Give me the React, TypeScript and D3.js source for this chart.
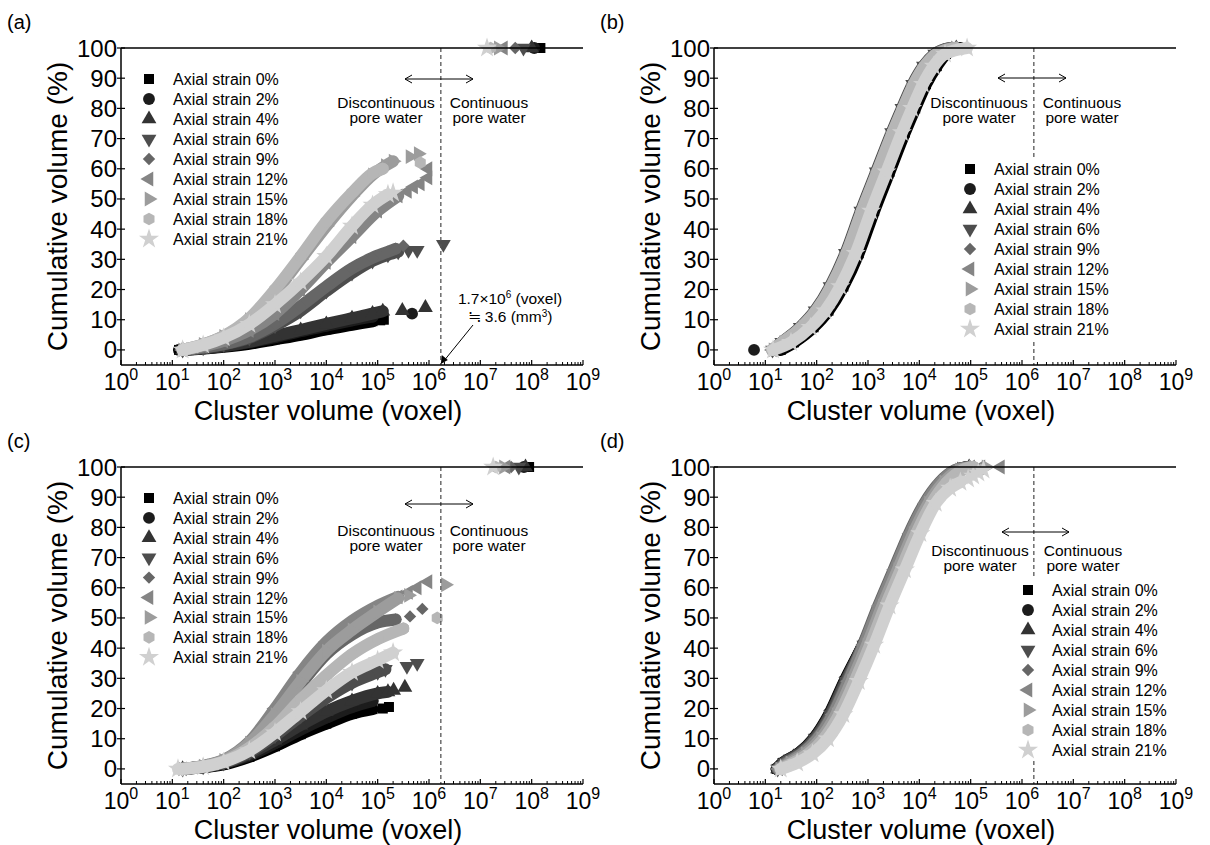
import React from "react";
import * as d3 from "d3";

const FONT = "'Liberation Sans', Arial, Helvetica, sans-serif";

const strainLabels = [
  "Axial strain 0%", "Axial strain 2%", "Axial strain 4%", "Axial strain 6%", "Axial strain 9%",
  "Axial strain 12%", "Axial strain 15%", "Axial strain 18%", "Axial strain 21%",
];
const seriesGreys = ["#000000", "#1c1c1c", "#333333", "#4d4d4d", "#666666", "#858585", "#9c9c9c", "#b6b6b6", "#d0d0d0"];
const seriesMarkers = ["square", "circle", "triangleUp", "triangleDown", "diamond", "triangleLeft", "triangleRight", "hexagon", "star"];
const yTickValues = [0, 10, 20, 30, 40, 50, 60, 70, 80, 90, 100];
const xTickExponents = [0, 1, 2, 3, 4, 5, 6, 7, 8, 9];
const thresholdVoxel = 1.7e6;

// points are [log10(cluster volume in voxel), cumulative volume %]
// dense runs of points (overlapping markers)
const bandA = [
  [[1.13, 0], [1.5, 0.3], [2, 1], [2.5, 2], [3, 3.5], [3.5, 5], [4, 6.8], [4.5, 8.3], [4.9, 9.5]],
  [[1.2, 0], [1.6, 0.5], [2, 1.2], [2.5, 2.5], [3, 4.2], [3.5, 6.2], [4, 8], [4.5, 9.8], [4.9, 11]],
  [[1.2, 0], [1.6, 0.5], [2, 1.3], [2.5, 2.7], [3, 4.6], [3.5, 6.6], [4, 8.6], [4.5, 10.5], [4.9, 12], [5.1, 12.8]],
  [[1.2, 0], [1.6, 0.7], [2, 1.8], [2.5, 4], [3, 8], [3.5, 13], [4, 19.5], [4.5, 25.5], [4.9, 29.5], [5.2, 31.5], [5.4, 32.5]],
  [[1.2, 0], [1.6, 0.8], [2, 1.9], [2.5, 4.3], [3, 8.6], [3.5, 14.5], [4, 21], [4.5, 27], [4.9, 30.5], [5.2, 32.5], [5.35, 33.5]],
  [[1.2, 0], [1.6, 1.2], [2, 3], [2.5, 6.5], [3, 12], [3.5, 20], [4, 29], [4.5, 37.5], [5, 46], [5.4, 51]],
  [[1.2, 0], [1.6, 1.8], [2, 4.5], [2.5, 10], [3, 19], [3.5, 30], [4, 41], [4.5, 51], [4.9, 58], [5.15, 61], [5.3, 62.5]],
  [[1.2, 0], [1.6, 1.8], [2, 4.6], [2.5, 10.5], [3, 20], [3.5, 31], [4, 42.5], [4.5, 52], [4.9, 58.5], [5.1, 60]],
  [[1.2, 0], [1.6, 1.6], [2, 4], [2.5, 8.5], [3, 15], [3.5, 22.5], [4, 31], [4.5, 41], [4.9, 48], [5.2, 51.5]],
];
// isolated points (large clusters)
const sparseA = [
  [[5.05, 9.8], [5.12, 10], [8.17, 100]],
  [[5.67, 12], [8.05, 100]],
  [[5.48, 13], [5.93, 14], [8.0, 100]],
  [[5.6, 33], [5.77, 33], [6.28, 35], [7.84, 100]],
  [[5.5, 34.5], [7.68, 100]],
  [[5.58, 52.5], [5.7, 54], [5.83, 55], [5.98, 57], [5.98, 60], [7.45, 100]],
  [[5.63, 64], [5.79, 65], [7.35, 100]],
  [[5.83, 62], [7.2, 100]],
  [[5.3, 52], [7.13, 100]],
];

const bandB = [
  [[1.3, 0], [1.56, 2.5], [1.94, 7.5], [2.23, 13], [2.52, 21], [2.82, 32], [3.12, 46], [3.42, 59], [3.72, 72], [3.92, 80], [4.13, 88], [4.34, 94], [4.52, 98], [4.8, 100]],
  [[1.2, 0], [1.48, 2.5], [1.86, 7.5], [2.15, 13], [2.44, 21], [2.74, 32], [3.04, 46], [3.34, 59], [3.64, 72], [3.84, 80], [4.05, 88], [4.26, 94], [4.46, 98], [4.75, 100]],
  [[1.18, 0], [1.44, 2.5], [1.82, 7.5], [2.11, 13], [2.4, 21], [2.7, 32], [3.0, 46], [3.3, 59], [3.6, 72], [3.8, 80], [4.01, 88], [4.22, 94], [4.43, 98], [4.72, 100]],
  [[1.14, 0], [1.32, 2.5], [1.68, 7.5], [1.97, 13], [2.26, 21], [2.56, 32], [2.86, 46], [3.16, 59], [3.46, 72], [3.66, 80], [3.87, 88], [4.08, 94], [4.3, 98], [4.6, 100]],
  [[1.14, 0], [1.34, 2.5], [1.7, 7.5], [1.99, 13], [2.28, 21], [2.58, 32], [2.88, 46], [3.18, 59], [3.48, 72], [3.68, 80], [3.89, 88], [4.1, 94], [4.31, 98], [4.62, 100]],
  [[1.14, 0], [1.33, 2.5], [1.71, 7.5], [2.0, 13], [2.29, 21], [2.59, 32], [2.89, 46], [3.19, 59], [3.49, 72], [3.69, 80], [3.9, 88], [4.11, 94], [4.33, 98], [4.65, 100]],
  [[1.15, 0], [1.36, 2.5], [1.74, 7.5], [2.03, 13], [2.32, 21], [2.62, 32], [2.92, 46], [3.22, 59], [3.52, 72], [3.72, 80], [3.93, 88], [4.14, 94], [4.36, 98], [4.7, 100]],
  [[1.13, 0], [1.33, 2.5], [1.7, 7.5], [1.99, 13], [2.28, 21], [2.58, 32], [2.88, 46], [3.18, 59], [3.48, 72], [3.68, 80], [3.89, 88], [4.1, 94], [4.33, 98], [4.72, 100]],
  [[1.15, 0], [1.5, 2.5], [1.88, 7.5], [2.17, 13], [2.46, 21], [2.76, 32], [3.06, 46], [3.36, 59], [3.66, 72], [3.86, 80], [4.07, 88], [4.28, 94], [4.5, 98], [4.93, 100]],
];
const sparseB = [[], [[0.78, 0]], [], [], [], [], [], [], []];

const bandC = [
  [[1.2, 0], [1.6, 0.5], [2, 1.5], [2.5, 4], [3, 7.5], [3.5, 11.5], [4, 15], [4.5, 18.3], [4.9, 19.8]],
  [[1.2, 0], [1.6, 0.6], [2, 1.8], [2.5, 4.5], [3, 8.5], [3.5, 13], [4, 17], [4.5, 20.5], [4.9, 22.5]],
  [[1.2, 0], [1.6, 0.7], [2, 2], [2.5, 5], [3, 9.5], [3.5, 14.5], [4, 19], [4.5, 22.5], [5, 25], [5.2, 25.5]],
  [[1.2, 0], [1.6, 0.7], [2, 2], [2.5, 5.5], [3, 11], [3.5, 17.5], [4, 23.5], [4.5, 28.5], [5, 32], [5.15, 33]],
  [[1.2, 0], [1.6, 0.9], [2, 2.7], [2.5, 8], [3, 17], [3.5, 28], [4, 38], [4.5, 44.5], [5, 48.5], [5.35, 49.5]],
  [[1.2, 0], [1.6, 1], [2, 3], [2.5, 9], [3, 20], [3.5, 32], [4, 42], [4.5, 49], [5, 54], [5.4, 57]],
  [[1.2, 0], [1.6, 0.9], [2, 2.8], [2.5, 8.5], [3, 18], [3.5, 29], [4, 39], [4.5, 46], [5, 52], [5.4, 56.5]],
  [[1.2, 0], [1.6, 0.8], [2, 2.5], [2.5, 7], [3, 14], [3.5, 23], [4, 31], [4.5, 38], [5, 43], [5.5, 46.5]],
  [[1.11, 0], [1.6, 0.7], [2, 2.3], [2.5, 6], [3, 12], [3.5, 19], [4, 26], [4.5, 32], [5, 36], [5.3, 38.5]],
];
const sparseC = [
  [[5.1, 20], [5.22, 20.5], [7.95, 100]],
  [[7.85, 100]],
  [[5.31, 26], [5.53, 27], [7.88, 100]],
  [[5.57, 34], [5.77, 35], [7.75, 100]],
  [[5.63, 50.5], [5.87, 53], [7.6, 100]],
  [[5.6, 58.5], [5.77, 60], [5.98, 62], [7.5, 100]],
  [[5.6, 57.5], [6.32, 61], [7.45, 100]],
  [[6.16, 50], [7.3, 100]],
  [[7.25, 100]],
];

const bandD = [
  [[1.22, 0], [1.34, 2], [1.64, 5], [1.94, 10], [2.24, 18], [2.54, 29], [2.9, 41], [3.26, 54], [3.56, 66], [3.86, 78], [4.16, 88], [4.46, 95], [4.74, 99], [4.95, 100]],
  [[1.22, 0], [1.35, 2], [1.65, 5], [1.95, 10], [2.25, 18], [2.55, 29], [2.9, 41], [3.26, 54], [3.56, 66], [3.86, 78], [4.16, 88], [4.46, 95], [4.74, 99], [4.95, 100]],
  [[1.24, 0], [1.36, 2], [1.66, 5], [1.96, 10], [2.26, 18], [2.56, 29], [2.91, 41], [3.27, 54], [3.57, 66], [3.87, 78], [4.17, 88], [4.47, 95], [4.75, 99], [4.97, 100]],
  [[1.24, 0], [1.37, 2], [1.67, 5], [1.97, 10], [2.27, 18], [2.57, 29], [2.92, 41], [3.27, 54], [3.57, 66], [3.87, 78], [4.17, 88], [4.47, 95], [4.76, 99], [5.0, 100]],
  [[1.24, 0], [1.4, 2], [1.7, 5], [2.0, 10], [2.3, 18], [2.6, 29], [2.9, 41], [3.2, 54], [3.5, 66], [3.8, 78], [4.1, 88], [4.4, 95], [4.7, 99], [4.95, 100]],
  [[1.26, 0], [1.44, 2], [1.72, 5], [2.02, 10], [2.32, 18], [2.62, 29], [2.92, 41], [3.22, 54], [3.52, 66], [3.82, 78], [4.12, 88], [4.42, 95], [4.72, 99], [5.0, 100]],
  [[1.28, 0], [1.48, 2], [1.78, 5], [2.08, 10], [2.38, 18], [2.68, 29], [2.98, 41], [3.28, 54], [3.58, 66], [3.88, 78], [4.18, 88], [4.48, 95], [4.78, 99], [5.05, 100]],
  [[1.3, 0], [1.54, 2], [1.84, 5], [2.14, 10], [2.44, 18], [2.74, 29], [3.04, 41], [3.34, 54], [3.64, 66], [3.94, 78], [4.24, 88], [4.54, 95], [4.84, 99], [5.05, 100]],
  [[1.3, 0], [1.62, 2], [1.92, 5], [2.22, 10], [2.52, 18], [2.82, 29], [3.12, 41], [3.42, 54], [3.72, 66], [4.02, 78], [4.32, 88], [4.6, 93], [4.8, 95]],
];
const sparseD = [
  [], [], [], [], [],
  [[5.2, 100], [5.58, 100]],
  [[5.3, 100]],
  [[5.2, 99]],
  [[4.95, 96], [5.05, 97], [5.15, 98], [5.25, 99]],
];

const hexagonType = {
  draw(ctx: any, size: number) {
    const r = Math.sqrt((2 * size) / (3 * Math.sqrt(3)));
    for (let i = 0; i < 6; i++) {
      const a = (Math.PI / 3) * i - Math.PI / 2;
      const px = r * Math.cos(a);
      const py = r * Math.sin(a);
      if (i === 0) ctx.moveTo(px, py);
      else ctx.lineTo(px, py);
    }
    ctx.closePath();
  },
};

const markerSpec: Record<string, { type: any; size: number; rot: number }> = {
  square: { type: d3.symbolSquare, size: 100, rot: 0 },
  circle: { type: d3.symbolCircle, size: 110, rot: 0 },
  triangleUp: { type: d3.symbolTriangle, size: 95, rot: 0 },
  triangleDown: { type: d3.symbolTriangle, size: 95, rot: 180 },
  diamond: { type: d3.symbolSquare, size: 76, rot: 45 },
  triangleLeft: { type: d3.symbolTriangle, size: 95, rot: -90 },
  triangleRight: { type: d3.symbolTriangle, size: 95, rot: 90 },
  hexagon: { type: hexagonType, size: 105, rot: 0 },
  star: { type: d3.symbolStar, size: 125, rot: 0 },
};
const markerPath = (name: string) => d3.symbol().type(markerSpec[name].type).size(markerSpec[name].size)() as string;

function Marker({ name, cx, cy, fill }: { name: string; cx: number; cy: number; fill: string }) {
  return <path d={markerPath(name)} transform={`translate(${cx},${cy}) rotate(${markerSpec[name].rot})`} fill={fill} />;
}

type PanelCfg = {
  label: string;
  left: number;
  top: number;
  band: number[][][];
  sparse: number[][][];
  legend: { mx: number; tx: number; y0: number; step: number; bg: boolean };
  ann: { ay: number; ax0: number; ax1: number; ty1: number; ty2: number; dx: number; cx: number };
  voxelNote: boolean;
};

const W = 462;
const H = 317;

const panels: PanelCfg[] = [
  {
    label: "(a)", left: 121, top: 48, band: bandA, sparse: sparseA,
    legend: { mx: 149, tx: 173, y0: 79, step: 20, bg: false },
    ann: { ay: 79, ax0: 405, ax1: 473, ty1: 108, ty2: 123, dx: 386, cx: 489 },
    voxelNote: true,
  },
  {
    label: "(b)", left: 714, top: 48, band: bandB, sparse: sparseB,
    legend: { mx: 970, tx: 994, y0: 169, step: 20, bg: true },
    ann: { ay: 78, ax0: 998, ax1: 1066, ty1: 108, ty2: 123, dx: 979, cx: 1082 },
    voxelNote: false,
  },
  {
    label: "(c)", left: 121, top: 467, band: bandC, sparse: sparseC,
    legend: { mx: 149, tx: 173, y0: 498, step: 19.9, bg: false },
    ann: { ay: 504, ax0: 405, ax1: 473, ty1: 536, ty2: 551, dx: 386, cx: 489 },
    voxelNote: false,
  },
  {
    label: "(d)", left: 714, top: 467, band: bandD, sparse: sparseD,
    legend: { mx: 1028, tx: 1052, y0: 590, step: 20, bg: true },
    ann: { ay: 532, ax0: 1002, ax1: 1069, ty1: 556, ty2: 571, dx: 980, cx: 1083 },
    voxelNote: false,
  },
];

function Panel({ p }: { p: PanelCfg }) {
  const x = d3.scaleLog().domain([1, 1e9]).range([p.left, p.left + W]);
  const y = d3.scaleLinear().domain([-5, 100]).range([p.top + H, p.top]);
  const px = (d: number[]) => x(Math.pow(10, d[0]));
  const py = (d: number[]) => y(d[1]);
  const line = d3.line<number[]>().x(px).y(py).curve(d3.curveMonotoneX);
  const bottom = p.top + H;
  const minor: number[] = [];
  for (let k = 0; k < 9; k++) for (let m = 2; m <= 9; m++) minor.push(m * Math.pow(10, k));
  const xd = x(thresholdVoxel);
  const a = p.ann;
  const lg = p.legend;

  return (
    <g>
      <text x={p.left < 400 ? 7 : 600} y={p.top - 19} fontSize={20} fontFamily={FONT}>{p.label}</text>

      {p.band.map((pts, i) => (
        <g key={"s" + i}>
          <path d={line(pts) as string} fill="none" stroke={seriesGreys[i]} strokeWidth={12} strokeLinecap="round" strokeLinejoin="round" />
          {pts.map((d, j) => (
            <Marker key={j} name={seriesMarkers[i]} cx={px(d)} cy={py(d)} fill={seriesGreys[i]} />
          ))}
          {p.sparse[i].map((d, j) => (
            <Marker key={"t" + j} name={seriesMarkers[i]} cx={px(d)} cy={py(d)} fill={seriesGreys[i]} />
          ))}
        </g>
      ))}

      <line x1={xd} x2={xd} y1={p.top} y2={bottom} stroke="#555" strokeWidth={1.3} strokeDasharray="4,3" />

      {lg.bg && <rect x={lg.mx - 10} y={lg.y0 - 11} width={150} height={lg.step * 8 + 22} fill="#fff" />}
      {strainLabels.map((t, i) => (
        <g key={"l" + i}>
          <Marker name={seriesMarkers[i]} cx={lg.mx} cy={lg.y0 + i * lg.step} fill={seriesGreys[i]} />
          <text x={lg.tx} y={lg.y0 + i * lg.step + 6} fontSize={16} fontFamily={FONT}>{t}</text>
        </g>
      ))}

      <path d={`M${a.ax0},${a.ay} H${a.ax1} M${a.ax0 + 7},${a.ay - 4} L${a.ax0},${a.ay} L${a.ax0 + 7},${a.ay + 4} M${a.ax1 - 7},${a.ay - 4} L${a.ax1},${a.ay} L${a.ax1 - 7},${a.ay + 4}`} fill="none" stroke="#000" strokeWidth={1} />
      <g fontSize={15.5} fontFamily={FONT} textAnchor="middle">
        <text x={a.dx} y={a.ty1}>Discontinuous</text>
        <text x={a.dx} y={a.ty2}>pore water</text>
        <text x={a.cx} y={a.ty1}>Continuous</text>
        <text x={a.cx} y={a.ty2}>pore water</text>
      </g>

      {p.voxelNote && (
        <g fontFamily={FONT} fontSize={15.5} textAnchor="middle">
          <text x={510} y={304}>1.7×10<tspan dy={-6} fontSize={10}>6</tspan><tspan dy={6}> (voxel)</tspan></text>
          <text x={510} y={322}>≒ 3.6 (mm<tspan dy={-5} fontSize={10}>3</tspan><tspan dy={5}>)</tspan></text>
          <line x1={473} y1={325} x2={xd + 3} y2={bottom - 4} stroke="#000" strokeWidth={1} />
          <path d={`M${xd},${bottom - 1} l1,-9 l6,5 z`} fill="#000" />
        </g>
      )}

      <line x1={p.left} x2={p.left + W} y1={p.top} y2={p.top} stroke="#000" strokeWidth={1.5} />
      <line x1={p.left} x2={p.left + W} y1={bottom} y2={bottom} stroke="#000" strokeWidth={1.5} />
      <line x1={p.left} x2={p.left} y1={p.top} y2={bottom} stroke="#000" strokeWidth={1.5} />

      {yTickValues.map((v) => (
        <g key={"y" + v}>
          <line x1={p.left - 4} x2={p.left + 4} y1={y(v)} y2={y(v)} stroke="#000" strokeWidth={1.2} />
          <text x={p.left - 4} y={y(v) + 8.5} textAnchor="end" fontSize={24} fontFamily={FONT}>{v}</text>
        </g>
      ))}
      {minor.map((v, i) => (
        <line key={"m" + i} x1={x(v)} x2={x(v)} y1={bottom} y2={bottom - 3} stroke="#000" strokeWidth={1} />
      ))}
      {xTickExponents.map((e) => (
        <g key={"x" + e}>
          <line x1={x(Math.pow(10, e))} x2={x(Math.pow(10, e))} y1={bottom} y2={bottom - 5} stroke="#000" strokeWidth={1.2} />
          <text x={x(Math.pow(10, e))} y={bottom + 25} textAnchor="middle" fontSize={23} fontFamily={FONT}>
            10<tspan dy={-10} fontSize={16}>{e}</tspan>
          </text>
        </g>
      ))}

      <text x={p.left + 207} y={bottom + 55} textAnchor="middle" fontSize={27} fontFamily={FONT}>Cluster volume (voxel)</text>
      <text transform={`translate(${p.left - 64},${p.top + H / 2}) rotate(-90)`} textAnchor="middle" dominantBaseline="central" fontSize={28} fontFamily={FONT}>
        Cumulative volume (%)
      </text>
    </g>
  );
}

export default function App() {
  return (
    <svg width={1210} height={845} style={{ position: "absolute", left: 0, top: 0, background: "#fff" }}>
      <rect width={1210} height={845} fill="#fff" />
      {panels.map((p) => (
        <Panel key={p.label} p={p} />
      ))}
    </svg>
  );
}
